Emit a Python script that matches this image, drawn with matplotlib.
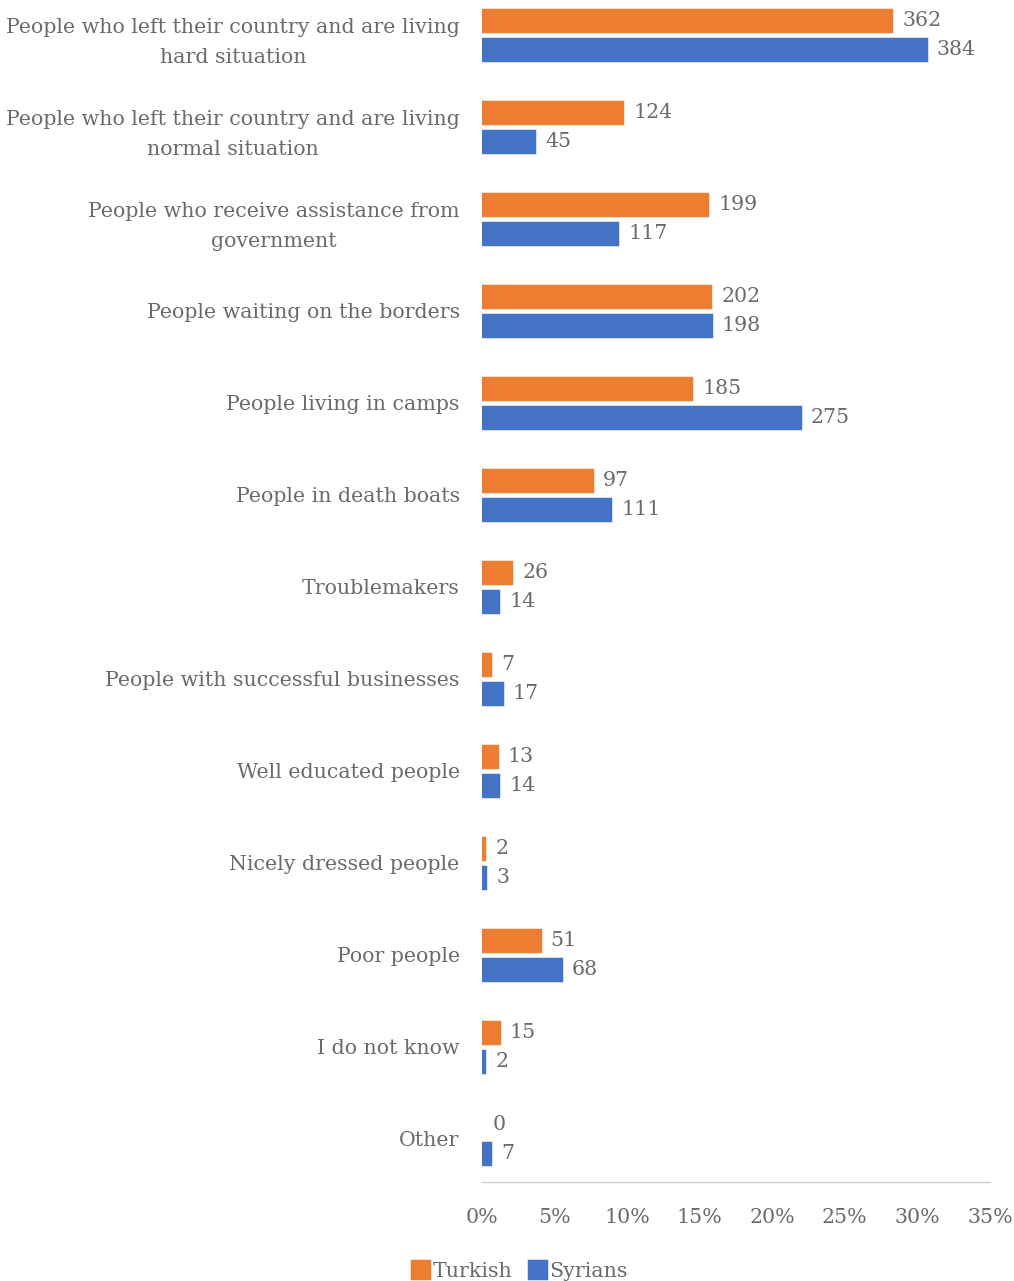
import matplotlib as mpl
mpl.use('Agg')
import matplotlib.pyplot as plt
from matplotlib.ticker import PercentFormatter
import numpy as np

categories = [
    'People who left their country and are living\nhard situation',
    'People who left their country and are living\nnormal situation',
    'People who receive assistance from\ngovernment',
    'People waiting on the borders',
    'People living in camps',
    'People in death boats',
    'Troublemakers',
    'People with successful businesses',
    'Well educated people',
    'Nicely dressed people',
    'Poor people',
    'I do not know',
    'Other',
]
turkish = [362, 124, 199, 202, 185, 97, 26, 7, 13, 2, 51, 15, 0]
syrians = [384, 45, 117, 198, 275, 111, 14, 17, 14, 3, 68, 2, 7]
xticks = [0, 5, 10, 15, 20, 25, 30, 35]

ORANGE = '#ED7D31'
BLUE = '#4472C4'
GREY = '#6a6a6a'
FS = 14.8

plt.rcParams['font.family'] = ['DejaVu Serif']

# bar length is the share of each group's answers
tur_pct = np.array(turkish) / sum(turkish) * 100
syr_pct = np.array(syrians) / sum(syrians) * 100

fig = plt.figure(figsize=(10.14, 12.81), dpi=100)
ax = fig.add_axes([0.4753, 1 - 1182 / 1281, 0.9763 - 0.4753, 1182 / 1281])

y = np.arange(len(categories))
h = 0.225
off = 0.158
# no edge on empty bars so nothing shows for a zero
ax.barh(y - off, tur_pct, height=h, color=ORANGE, edgecolor=ORANGE,
        linewidth=[2.5 if v > 0 else 0 for v in turkish], label='Turkish')
ax.barh(y + off, syr_pct, height=h, color=BLUE, edgecolor=BLUE,
        linewidth=[2.5 if v > 0 else 0 for v in syrians], label='Syrians')

for yi, p, n in zip(y, tur_pct, turkish):
    ax.text(p + 0.75, yi - off, str(n), va='center', ha='left', fontsize=FS, color=GREY)
for yi, p, n in zip(y, syr_pct, syrians):
    ax.text(p + 0.75, yi + off, str(n), va='center', ha='left', fontsize=FS, color=GREY)

ax.set_xlim(0, 35)
ax.set_ylim(12.47, -0.38)
ax.set_xticks(xticks)
ax.xaxis.set_major_formatter(PercentFormatter(decimals=0))
ax.set_yticks(y)
ax.set_yticklabels(categories, multialignment='center', linespacing=1.75)
ax.tick_params(axis='y', length=0, pad=16, labelsize=FS, labelcolor=GREY)
ax.tick_params(axis='x', length=0, pad=19, labelsize=FS, labelcolor=GREY)

for s in ['top', 'right', 'left']:
    ax.spines[s].set_visible(False)
ax.spines['bottom'].set_color('#d0d0d0')
ax.spines['bottom'].set_linewidth(1)

fig.legend(loc='center', bbox_to_anchor=(0.513, 0.008), ncol=2, frameon=False,
           fontsize=FS, labelcolor=GREY, handlelength=0.8, handleheight=0.9,
           handletextpad=0.2, columnspacing=0.8)

fig.savefig('out.png', dpi=100)
